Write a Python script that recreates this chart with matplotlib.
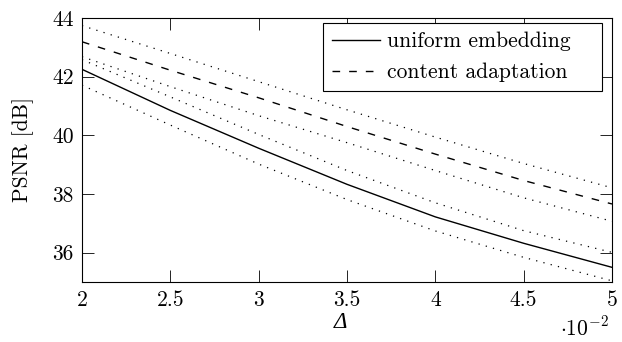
import matplotlib
matplotlib.use('Agg')
import matplotlib.pyplot as plt

plt.rcParams['font.family'] = 'serif'
plt.rcParams['font.serif'] = ['cmr10']
plt.rcParams['mathtext.fontset'] = 'cm'
plt.rcParams['axes.formatter.use_mathtext'] = True

# step size (x 10^-2)
delta = [2.0, 2.5, 3.0, 3.5, 4.0, 4.5, 5.0]

# PSNR [dB]
uniform = [42.25, 40.85, 39.56, 38.33, 37.22, 36.32, 35.50]
uniform_hi = [42.58, 41.31, 40.03, 38.80, 37.70, 36.75, 36.01]
uniform_lo = [41.71, 40.35, 39.02, 37.81, 36.74, 35.84, 35.04]

adapt = [43.19, 42.22, 41.28, 40.30, 39.36, 38.46, 37.66]
adapt_hi = [43.74, 42.79, 41.83, 40.87, 39.94, 39.04, 38.21]
adapt_lo = [42.68, 41.66, 40.67, 39.75, 38.80, 37.87, 37.07]

fs = 15.5

fig = plt.figure(figsize=(6.22, 3.42), dpi=100)
ax = fig.add_axes([82 / 622, 1 - 282 / 342, 530 / 622, 264 / 342])

dot = (0, (1, 5))
ax.plot(delta, uniform, color='k', lw=1.0, label='uniform embedding')
ax.plot(delta, adapt, color='k', lw=1.0, dashes=(5.5, 6.5), label='content adaptation')
ax.plot(delta, uniform_hi, color='k', lw=0.9, linestyle=dot)
ax.plot(delta, uniform_lo, color='k', lw=0.9, linestyle=dot)
ax.plot(delta, adapt_hi, color='k', lw=0.9, linestyle=dot)
ax.plot(delta, adapt_lo, color='k', lw=0.9, linestyle=dot)

ax.set_xlim(2, 5)
ax.set_ylim(35, 44)
ax.set_xticks([2, 2.5, 3, 3.5, 4, 4.5, 5])
ax.set_xticklabels(['2', '2.5', '3', '3.5', '4', '4.5', '5'])
ax.set_yticks([36, 38, 40, 42, 44])
ax.set_yticklabels(['36', '38', '40', '42', '44'])
ax.tick_params(direction='in', top=True, right=True, length=8.5, width=0.6,
               labelsize=fs)
ax.tick_params(axis='x', pad=6)
ax.tick_params(axis='y', pad=6)
for s in ax.spines.values():
    s.set_linewidth(0.8)

# legend box stretched to the reference width
leg = ax.legend(loc='upper right', mode='expand',
                bbox_to_anchor=(241 / 530, 0.5, 279 / 530, 0.5 - 5 / 264),
                borderaxespad=0, fancybox=False, edgecolor='k', framealpha=1,
                fontsize=fs, handlelength=2.25, handletextpad=0.3,
                borderpad=0.4, labelspacing=0.55)
leg.get_frame().set_linewidth(0.8)

fig.text(23 / 622, 1 - 150 / 342, 'PSNR [dB]',
         rotation=90, ha='center', va='center', fontsize=fs)
fig.text(340 / 622, 1 - 322 / 342, 'Δ', family='Liberation Serif', style='italic',
         ha='center', va='center', fontsize=fs + 1)
fig.text(609 / 622, 2 / 342, r'$\cdot 10^{-2}$', ha='right', va='bottom', fontsize=fs)

fig.savefig('out.png', dpi=100)
